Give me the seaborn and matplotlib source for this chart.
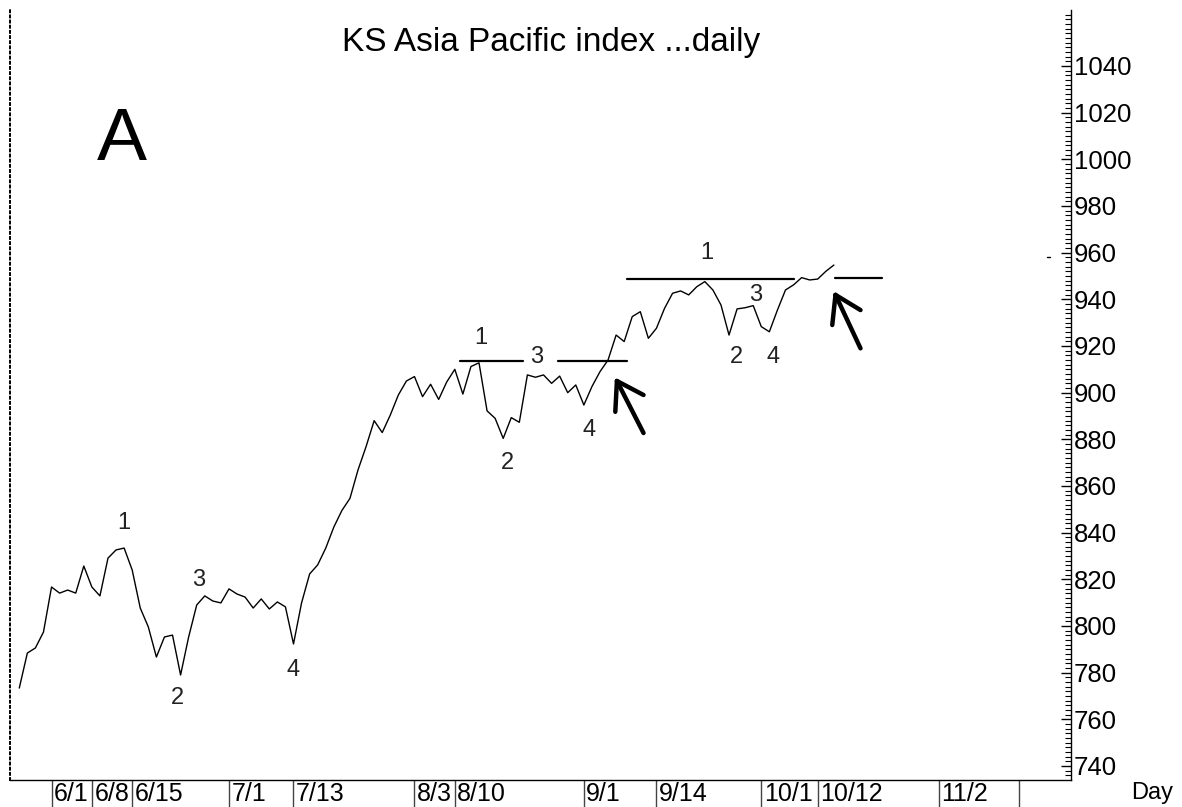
import numpy as np
import matplotlib
matplotlib.use("Agg")
import matplotlib.pyplot as plt
import seaborn as sb

# daily closes (one value per trading day)
closes = [773.4, 788.4, 790.6, 797.4, 816.7, 814.1, 815.4, 814.1, 825.7, 816.7,
          812.9, 829.1, 832.6, 833.4, 824.0, 807.7, 799.6, 786.7, 795.3, 796.1,
          779.0, 795.3, 809.0, 812.9, 810.7, 809.9, 815.9, 813.7, 812.4, 807.7,
          811.6, 807.3, 810.3, 808.2, 792.3, 809.9, 822.3, 826.2, 833.4, 842.4,
          849.5, 854.7, 866.9, 876.9, 888.0, 882.9, 890.4, 899.0, 905.0, 906.9,
          898.3, 903.6, 897.1, 904.6, 910.0, 899.4, 911.2, 912.8, 892.2, 889.0,
          880.4, 889.3, 887.3, 907.6, 906.6, 907.6, 904.0, 907.1, 900.0, 903.3,
          894.7, 902.6, 909.0, 914.0, 924.7, 921.9, 932.6, 934.7, 923.3, 927.6,
          936.1, 942.6, 943.6, 941.9, 945.4, 947.6, 944.0, 937.6, 924.7, 935.9,
          936.4, 937.3, 928.3, 926.1, 935.4, 944.0, 946.2, 949.3, 948.3, 948.7,
          952.0, 954.7]
days = np.arange(len(closes))

# date boxes on the time axis (day index -> label)
date_pos = [4, 9, 14, 26, 34, 49, 54, 70, 79, 92, 99, 114, 124]
date_lbl = ["6/1", "6/8", "6/15", "7/1", "7/13", "8/3", "8/10", "9/1", "9/14",
            "10/1", "10/12", "11/2", ""]

# wave counts drawn on the chart
wave_txt = ["1", "2", "3", "4"] * 3
wave_x = [12.9, 19.6, 22.3, 33.9, 57.2, 60.5, 64.2, 70.6, 85.2, 88.9, 91.3, 93.5]
wave_y = [844.0, 769.0, 819.7, 781.1, 923.3, 869.7, 915.4, 884.0, 959.7, 915.4, 941.9, 915.4]

# resistance lines (x0, x1, level)
levels = [(54.7, 62.5, 913.6), (66.8, 75.4, 913.6), (75.4, 96.0, 948.7), (101.2, 107.0, 949.0)]

# hand drawn arrows: tip, tail, two barbs
arrows = [((74.1, 905.0), (77.4, 882.7), (73.9, 891.8), (77.4, 899.0)),
          ((101.2, 941.9), (104.3, 919.0), (100.8, 929.0), (104.3, 935.4))]

sb.set_style("white")
plt.rcParams['font.family'] = ['Liberation Sans', 'DejaVu Sans']
plt.rcParams['text.color'] = 'black'
plt.rcParams['xtick.color'] = 'black'
plt.rcParams['ytick.color'] = 'black'

fig = plt.figure(figsize=(11.82, 8.07), dpi=100)
ax = fig.add_axes([10 / 1182, 27 / 807, 1061 / 1182, 770 / 807])

sb.lineplot(x=days, y=closes, ax=ax, color="black", lw=1.0)

for x0, x1, lv in levels:
    ax.plot([x0, x1], [lv, lv], color="black", lw=1.6)

for tip, tail, b1, b2 in arrows:
    for p in (tail, b1, b2):
        ax.plot([tip[0], p[0]], [tip[1], p[1]], color="black", lw=3.2,
                solid_capstyle="round")

for t, x, y in zip(wave_txt, wave_x, wave_y):
    ax.text(x, y, t, ha="center", va="center", fontsize=17, color="#222222")

# stray dash near the right axis
ax.plot([127.4, 127.8], [958, 958], color="black", lw=1)

ax.set_xlim(-1.15, 130.4)
ax.set_ylim(734, 1064)

# right hand price scale
ax.yaxis.tick_right()
ax.set_yticks(np.arange(740, 1041, 20))
ax.set_yticks(np.arange(736, 1064, 2), minor=True)
ax.tick_params(axis="y", which="major", direction="in", length=7, width=1,
               labelsize=18.5, pad=2, right=True, left=False, colors="black")
ax.tick_params(axis="y", which="minor", direction="in", length=4, width=0.8,
               right=True, left=False, colors="black")

# date separators under the axis
ax.set_xticks(date_pos)
ax.set_xticklabels([""] * len(date_pos))
ax.tick_params(axis="x", which="major", direction="out", length=20, width=1,
               color="#444444", bottom=True)
for p, l in zip(date_pos, date_lbl):
    ax.text(p + 0.3, -0.018, l, transform=ax.get_xaxis_transform(),
            ha="left", va="center", fontsize=18)

ax.spines["top"].set_visible(False)
ax.spines["left"].set_linestyle(":")
ax.spines["left"].set_color("black")
ax.spines["right"].set_color("black")
ax.spines["bottom"].set_color("black")
ax.spines["left"].set_linewidth(1.4)
ax.spines["right"].set_linewidth(1)
ax.spines["bottom"].set_linewidth(1)
ax.set_xlabel("")
ax.set_ylabel("")

fig.text(551 / 1182, 1 - 42 / 807, "KS Asia Pacific index ...daily",
         ha="center", va="center", fontsize=24)
fig.text(122 / 1182, 1 - 140 / 807, "A", ha="center", va="center", fontsize=54)
fig.text(1152 / 1182, 1 - 793 / 807, "Day", ha="center", va="center", fontsize=17)

fig.savefig("out.png", dpi=100)
